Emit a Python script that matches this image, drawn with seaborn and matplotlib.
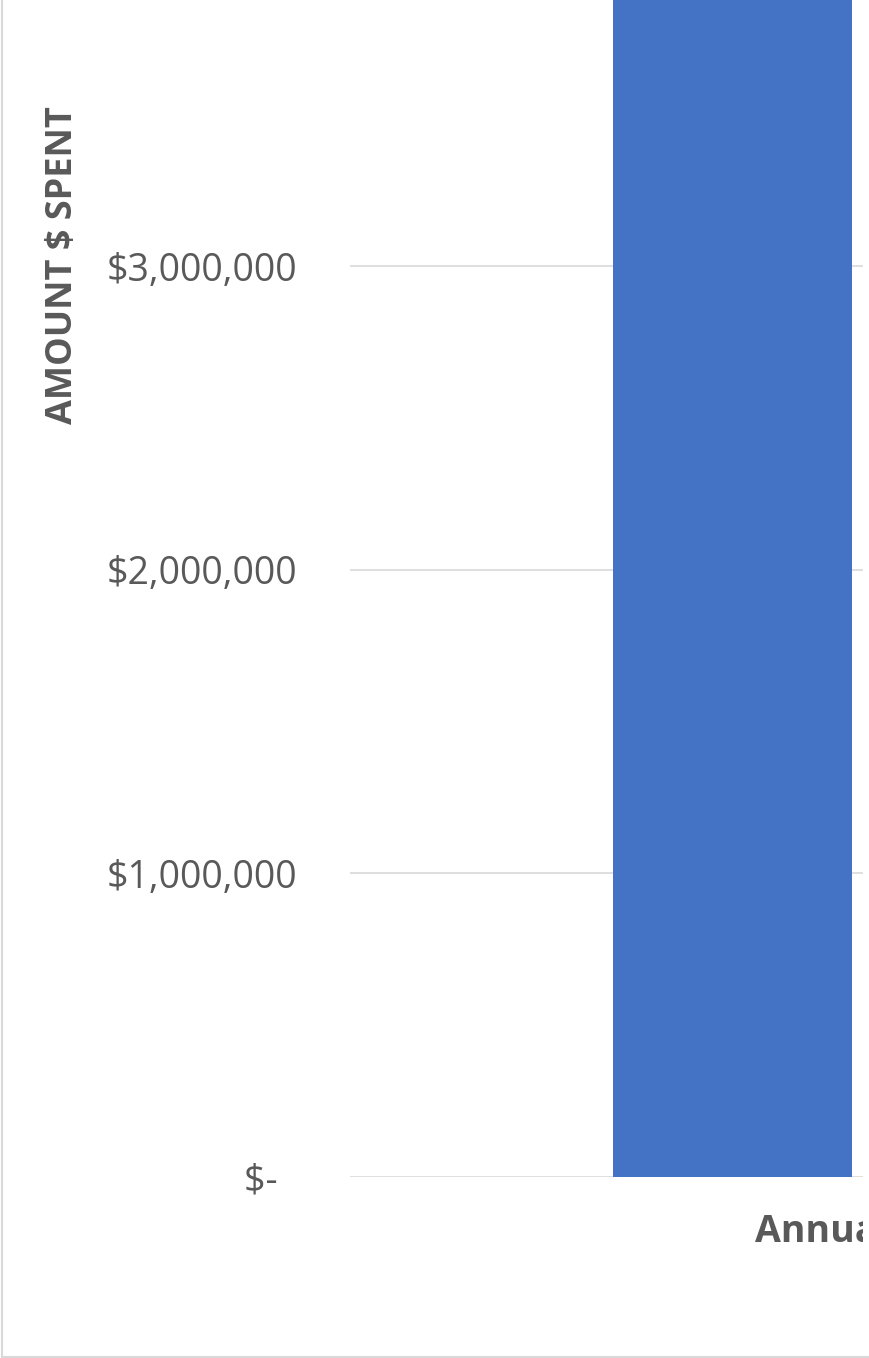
import matplotlib
matplotlib.use("Agg")
import matplotlib.pyplot as plt
from matplotlib.patches import Rectangle
from matplotlib.lines import Line2D
import seaborn as sns

# data (bar runs past the top of the crop)
categories = ["Annual Spend"]
amounts = [5200000]
y_ticks = [0, 1000000, 2000000, 3000000]
y_tick_labels = ["$-  ", "$1,000,000", "$2,000,000", "$3,000,000"]
y_title = "AMOUNT $ SPENT"
x_title = "Annual Spend"

sns.set_style("white")
plt.rcParams['font.family'] = ['Open Sans', 'DejaVu Sans']

grey = "#595959"
W, H = 870, 1358
fig = plt.figure(figsize=(W / 100, H / 100), dpi=100)

# axes runs past the top of the figure, like the cropped original
ax = fig.add_axes([350 / W, (H - 1177) / H, 513 / W, (1177 + 645) / H])
sns.barplot(x=categories, y=amounts, color="#4472C4", saturation=1,
            width=0.313, linewidth=0, ax=ax)
ax.set_xlim(-0.5, 0.171)
ax.set_ylim(0, 6000000)
ax.set_yticks(y_ticks)
ax.set_yticklabels(y_tick_labels, fontsize=27, color=grey)
ax.set_xticks([])
ax.tick_params(axis="y", length=0, pad=38)
ax.set_xlabel("")
ax.set_ylabel("")
ax.yaxis.grid(True, color="#D9D9D9", linewidth=1.2)
ax.set_axisbelow(True)
for s in ax.spines.values():
    s.set_visible(False)

fig.text(63 / W, 1 - 265 / H, y_title, rotation=90, ha="center", va="center",
         fontsize=26, fontweight="bold", color=grey)
xt = fig.text(755 / W, 1 - 1232 / H, x_title, ha="left", va="center",
              fontsize=27, fontweight="bold", color=grey)
xt.set_clip_path(Rectangle((0, 0), 863 / W, 1, transform=fig.transFigure))

# chart border (left and bottom only are inside the crop)
fig.add_artist(Line2D([2.5 / W, 2.5 / W], [1 - 1356.5 / H, 1], transform=fig.transFigure,
                      color="#D9D9D9", linewidth=1.5))
fig.add_artist(Line2D([2.5 / W, 1], [1 - 1356.5 / H, 1 - 1356.5 / H], transform=fig.transFigure,
                      color="#D9D9D9", linewidth=1.5))

fig.savefig("out.png", dpi=100)
